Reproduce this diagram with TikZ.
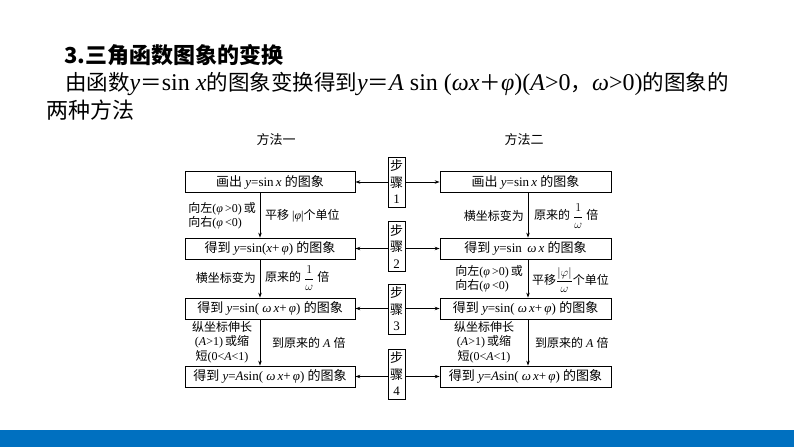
\documentclass[tikz,border=0pt]{standalone}
\usepackage{fontspec}
\setmainfont{Liberation Serif}
\newfontfamily\cjk{Noto Sans CJK SC}
\usetikzlibrary{arrows.meta}
\newcommand{\zh}[1]{{\cjk #1}}
\newcommand{\zhb}[1]{{\fontsize{21.5}{26}\selectfont\cjk #1}}
\newcommand{\vi}[1]{\textit{#1}}
\definecolor{barblue}{RGB}{0,112,192}
\tikzset{
  box/.style={draw, line width=0.8pt, minimum width=170pt, minimum height=21pt, inner sep=0pt, font=\fontsize{13}{15}\selectfont},
  stepbox/.style={draw, line width=0.8pt, minimum width=17pt, minimum height=50pt, inner sep=1pt, align=center, font=\fontsize{13}{16.5}\selectfont},
  lab/.style={font=\fontsize{12}{13.5}\selectfont, inner sep=0pt},
  lab3/.style={font=\fontsize{12}{14.5}\selectfont, inner sep=0pt, align=center},
  arr/.style={-{Stealth[length=5pt,width=3.5pt]}, line width=0.7pt},
}
\begin{document}
\begin{tikzpicture}[x=1pt,y=-1pt]
\useasboundingbox (0,0) rectangle (794,447);
\fill[barblue] (0,430) rectangle (794,447);

% header
\node[anchor=west, inner sep=0pt, font=\fontsize{22}{26}\selectfont\cjk\bfseries] (t1) at (64,55) {3.三角函数图象的变换};
\node[anchor=west, inner sep=0pt, font=\fontsize{24}{26}\selectfont] (t2) at (65,84) {\zhb{由函数}\vi{y}\zhb{＝}sin \vi{x}\zhb{的图象变换得到}\vi{y}\zhb{＝}\vi{A} sin (\vi{ωx}\zhb{＋}\vi{φ})(\vi{A}>0\zhb{，}\vi{ω}>0)\zhb{的图象的}};
\node[anchor=west, inner sep=0pt, font=\fontsize{22}{26}\selectfont\cjk] (t3) at (46,110) {两种方法};

\node[font=\fontsize{13}{15}\selectfont\cjk] (m1) at (276,140) {方法一};
\node[font=\fontsize{13}{15}\selectfont\cjk] (m2) at (524,140) {方法二};

% left boxes
\node[box] (l1) at (270,182) {\zh{画出} \vi{y}=sin\,\vi{x} \zh{的图象}};
\node[box] (l2) at (270,248.5) {\zh{得到} \vi{y}=sin(\vi{x}+\,\vi{φ}) \zh{的图象}};
\node[box] (l3) at (270,308.5) {\zh{得到} \vi{y}=sin( \vi{ω\,x}+\,\vi{φ}) \zh{的图象}};
\node[box] (l4) at (270,376.5) {\zh{得到} \vi{y}=\vi{A}sin( \vi{ω\,x}+\,\vi{φ}) \zh{的图象}};

% right boxes
\node[box, minimum width=171pt] (r1) at (525.5,182) {\zh{画出} \vi{y}=sin\,\vi{x} \zh{的图象}};
\node[box, minimum width=171pt] (r2) at (525.5,248.5) {\zh{得到} \vi{y}=sin \,\vi{ω\,x} \zh{的图象}};
\node[box, minimum width=171pt] (r3) at (525.5,308.5) {\zh{得到} \vi{y}=sin( \vi{ω\,x}+\,\vi{φ}) \zh{的图象}};
\node[box, minimum width=171pt] (r4) at (525.5,376.5) {\zh{得到} \vi{y}=\vi{A}sin( \vi{ω\,x}+\,\vi{φ}) \zh{的图象}};

% step boxes
\node[stepbox] (s1) at (396.5,182) {\zh{步}\\\zh{骤}\\1};
\node[stepbox] (s2) at (396.5,246.5) {\zh{步}\\\zh{骤}\\2};
\node[stepbox] (s3) at (396.5,309) {\zh{步}\\\zh{骤}\\3};
\node[stepbox] (s4) at (396.5,374) {\zh{步}\\\zh{骤}\\4};

\foreach \i in {1,2,3,4}{
  \draw[arr] (s\i.west |- l\i.east) -- (l\i.east);
  \draw[arr] (s\i.east |- r\i.west) -- (r\i.west);
}

% vertical arrows
\coordinate (lx) at (260,0);
\coordinate (rx) at (528,0);
\draw[arr] (l1.south -| lx) -- (l2.north -| lx);
\draw[arr] (l2.south -| lx) -- (l3.north -| lx);
\draw[arr] (l3.south -| lx) -- (l4.north -| lx);
\draw[arr] (r1.south -| rx) -- (r2.north -| rx);
\draw[arr] (r2.south -| rx) -- (r3.north -| rx);
\draw[arr] (r3.south -| rx) -- (r4.north -| rx);

% left labels
\node[lab, anchor=east, align=left] (a1) at (256,215.5) {\zh{向左}(\vi{φ}\,>0)\,\zh{或}\\\zh{向右}(\vi{φ}\,<0)};
\node[lab, anchor=west] (b1) at (265,216) {\zh{平移} |\vi{φ}|\zh{个单位}};
\node[lab, anchor=east] (a2) at (256,278) {\zh{横坐标变为}};
\node[lab, anchor=west] (b2) at (265,278) {\zh{原来的} $\displaystyle\frac{1}{\omega}$ \zh{倍}};
\node[lab3] (a3) at (222,342) {\zh{纵坐标伸长}\\(\vi{A}>1)\,\zh{或缩}\\\zh{短}(0<\vi{A}<1)};
\node[lab, anchor=west] (b3) at (272,343) {\zh{到原来的} \vi{A} \zh{倍}};

% right labels
\node[lab, anchor=east] (c1) at (524,216) {\zh{横坐标变为}};
\node[lab, anchor=west] (d1) at (534,216) {\zh{原来的} $\displaystyle\frac{1}{\omega}$ \zh{倍}};
\node[lab, anchor=east, align=left] (c2) at (523,278.5) {\zh{向左}(\vi{φ}\,>0)\,\zh{或}\\\zh{向右}(\vi{φ}\,<0)};
\node[lab, anchor=west] (d2) at (532,280) {\zh{平移}$\displaystyle\frac{|\varphi|}{\omega}$\zh{个单位}};
\node[lab3] (c3) at (484,342) {\zh{纵坐标伸长}\\(\vi{A}>1)\,\zh{或缩}\\\zh{短}(0<\vi{A}<1)};
\node[lab, anchor=west] (d3) at (535,343) {\zh{到原来的} \vi{A} \zh{倍}};
\end{tikzpicture}
\end{document}
